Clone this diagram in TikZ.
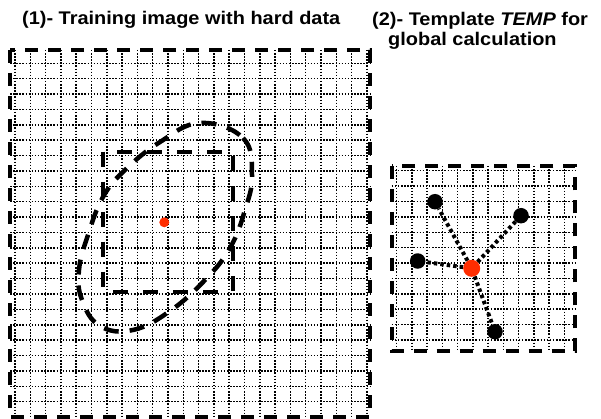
\documentclass[tikz,border=0pt]{standalone}
\usepackage{fontspec}
\setmainfont{Liberation Sans}
\definecolor{hotred}{RGB}{255,45,0}
\begin{document}
\begin{tikzpicture}[x=1pt,y=-1pt,
  gridline/.style={line width=1.5pt,dash pattern=on 1.5pt off 1.6pt},
  frame/.style={line width=4pt,dash pattern=on 13pt off 10pt},
  window/.style={line width=4pt,dash pattern=on 15pt off 15pt},
  region/.style={line width=4.5pt,dash pattern=on 15pt off 11pt},
  link/.style={line width=4pt,dash pattern=on 3.5pt off 3pt},
  known/.style={circle,fill=black,inner sep=0pt,minimum size=15.5pt},
  centre/.style={circle,fill=hotred,inner sep=0pt,minimum size=17pt},
  title/.style={font=\bfseries\fontsize{18.3}{20}\selectfont,inner sep=0pt,anchor=base west}]
\useasboundingbox (0,0) rectangle (601,419);

% headings
\node[title] (t1) at (22,25) {\scalebox{1.09}[1]{(1)- Training image with hard data}};
\node[title] (t2) at (372,26) {\scalebox{1.09}[1]{(2)- Template \textit{TEMP} for}};
\node[title] (t3) at (388,46) {\scalebox{1.09}[1]{global calculation}};

% training image grid
\foreach \k in {0,...,23} \draw[gridline] ({15+15.3*\k},50) -- ({15+15.3*\k},417);
\foreach \k in {0,...,22} \draw[gridline] (10,{63.3+15.38*\k}) -- (370,{63.3+15.38*\k});
\draw[frame] (10,50) rectangle (370,417);

% search window and data region
\draw[window] (103.3,151.7) rectangle (232.7,291.7);
\draw[region] plot[smooth cycle,tension=0.7] coordinates {
  (200,123) (243,138) (252,175) (245,210) (230,248) (205,280) (170,311)
  (133,330) (100,326) (82,300) (79,270) (88,235) (103,197) (125,170) (160,142)};
\node[circle,fill=hotred,inner sep=0pt,minimum size=10pt] (hd) at (164.3,222.3) {};

% template grid
\foreach \k in {0,...,11} \draw[gridline] ({396.7+15.24*\k},166) -- ({396.7+15.24*\k},351);
\foreach \k in {0,...,11} \draw[gridline] (391.7,{170.7+15.39*\k}) -- (575,{170.7+15.39*\k});
\draw[frame] (391.7,166) rectangle (575,351);

% template nodes
\node[centre] (c) at (471.7,268.3) {};
\node[known] (n1) at (435,201.7) {};
\node[known] (n2) at (521,215.7) {};
\node[known] (n3) at (417.7,261) {};
\node[known] (n4) at (495,331.7) {};
\foreach \n in {n1,n2,n3,n4} \draw[link] (c) -- (\n);
\end{tikzpicture}
\end{document}
